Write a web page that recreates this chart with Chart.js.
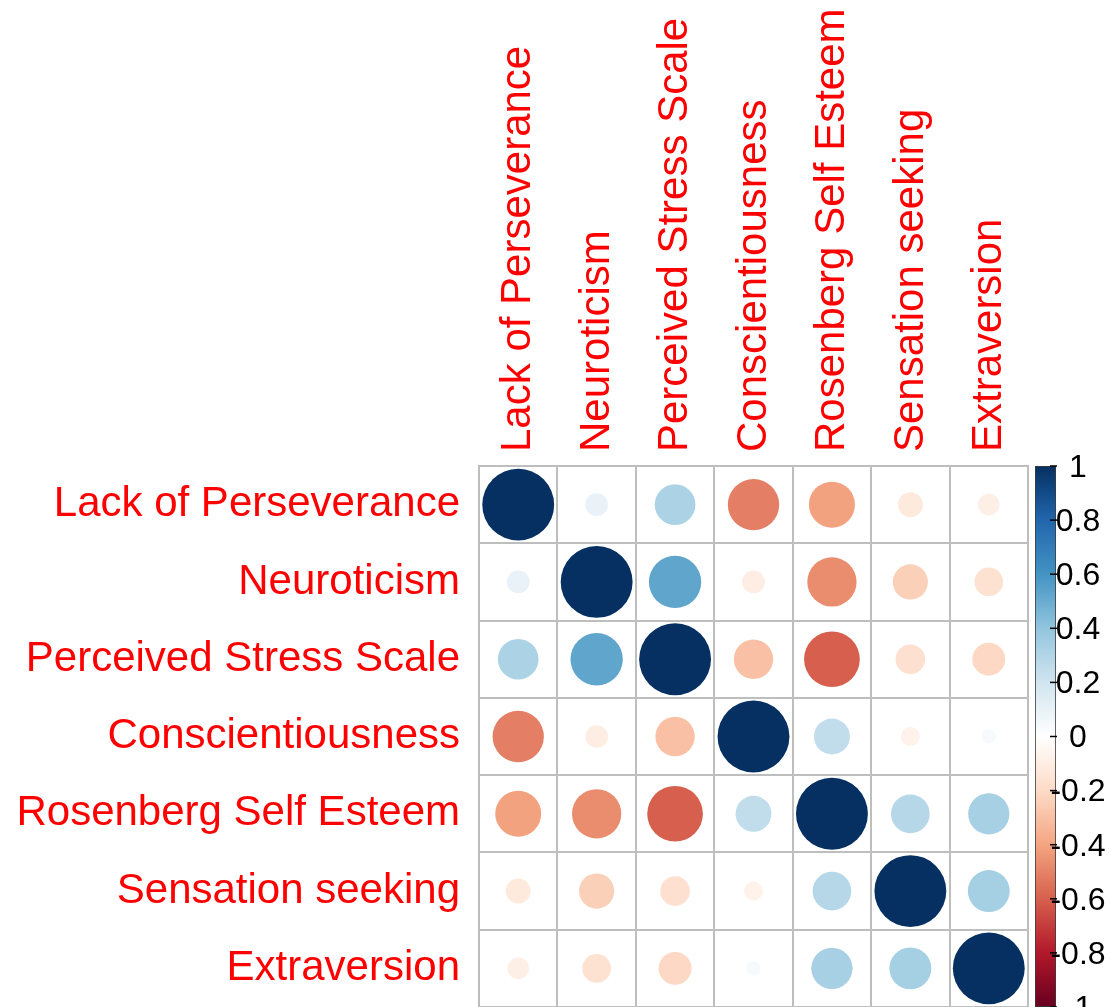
<!DOCTYPE html>
<html>
<head>
<meta charset="utf-8">
<script src="https://cdn.jsdelivr.net/npm/chart.js@4.4.1/dist/chart.umd.min.js"></script>
<style>
  html, body { margin: 0; padding: 0; background: #ffffff; overflow: hidden; }
  canvas { display: block; }
</style>
</head>
<body>
<canvas id="corr" width="1112" height="1007"></canvas>
<script>
// Variables, in the order of the matrix rows and columns
const variables = [
  "Lack of Perseverance",
  "Neuroticism",
  "Perceived Stress Scale",
  "Conscientiousness",
  "Rosenberg Self Esteem",
  "Sensation seeking",
  "Extraversion"
];

// Correlation rows (one per variable, columns in the same order)
const lackOfPerseverance = [ 1.00,  0.10,  0.32, -0.51, -0.41, -0.12, -0.09];
const neuroticism        = [ 0.10,  1.00,  0.53, -0.10, -0.47, -0.24, -0.16];
const perceivedStress    = [ 0.32,  0.53,  1.00, -0.30, -0.60, -0.17, -0.21];
const conscientiousness  = [-0.51, -0.10, -0.30,  1.00,  0.25, -0.07,  0.04];
const selfEsteem         = [-0.41, -0.47, -0.60,  0.25,  1.00,  0.29,  0.33];
const sensationSeeking   = [-0.12, -0.24, -0.17, -0.07,  0.29,  1.00,  0.34];
const extraversion       = [-0.09, -0.16, -0.21,  0.04,  0.33,  0.34,  1.00];

// Colour key ticks
const colorbarTicks  = [1, 0.8, 0.6, 0.4, 0.2, 0, -0.2, -0.4, -0.6, -0.8, -1];
const colorbarLabels = ["1", "0.8", "0.6", "0.4", "0.2", "0", "-0.2", "-0.4", "-0.6", "-0.8", "-1"];

// Diverging red-blue palette from -1 to 1
const rdbu = ["#67001F", "#B2182B", "#D6604D", "#F4A582", "#FDDBC7", "#FFFFFF",
              "#D1E5F0", "#92C5DE", "#4393C3", "#2166AC", "#053061"];

const rows = [lackOfPerseverance, neuroticism, perceivedStress, conscientiousness,
              selfEsteem, sensationSeeking, extraversion];

function hexToRgb(h) {
  return [parseInt(h.slice(1, 3), 16), parseInt(h.slice(3, 5), 16), parseInt(h.slice(5, 7), 16)];
}
function colorFor(v) {
  const t = Math.max(0, Math.min(1, (v + 1) / 2)) * (rdbu.length - 1);
  const i = Math.min(rdbu.length - 2, Math.floor(t));
  const f = t - i;
  const a = hexToRgb(rdbu[i]), b = hexToRgb(rdbu[i + 1]);
  const c = a.map((x, k) => Math.round(x + (b[k] - x) * f));
  return `rgb(${c[0]},${c[1]},${c[2]})`;
}

const points = [];
rows.forEach((row, i) => {
  row.forEach((v, j) => {
    points.push({ x: variables[j], y: variables[i], v: v });
  });
});

// Circle radius: area proportional to |r|, sized from the category cell
function radiusFor(ctx) {
  const chart = ctx.chart;
  const xs = chart.scales.x, ys = chart.scales.y;
  if (!xs || !ys || !ctx.raw) return 0;
  const cw = Math.abs(xs.getPixelForValue(1) - xs.getPixelForValue(0));
  const ch = Math.abs(ys.getPixelForValue(1) - ys.getPixelForValue(0));
  return Math.sqrt(Math.abs(ctx.raw.v)) * Math.min(cw, ch) * 0.465;
}

// Vertical colour key to the right of the matrix
const colorKey = {
  id: 'colorKey',
  afterDraw(chart) {
    const { ctx, chartArea: a } = chart;
    const x0 = a.right + 7, w = 21;
    const yOf = v => a.top + (1 - v) / 2 * (a.bottom - a.top);
    const g = ctx.createLinearGradient(0, yOf(-1), 0, yOf(1));
    rdbu.forEach((c, k) => g.addColorStop(k / (rdbu.length - 1), c));
    ctx.save();
    ctx.fillStyle = g;
    ctx.fillRect(x0, yOf(1), w, yOf(-1) - yOf(1));
    ctx.strokeStyle = 'rgba(60,60,60,0.8)';
    ctx.lineWidth = 1;
    ctx.strokeRect(x0 + 0.5, yOf(1) + 0.5, w - 1, yOf(-1) - yOf(1) - 1);
    ctx.strokeStyle = '#000000';
    ctx.lineWidth = 1.5;
    ctx.fillStyle = '#000000';
    ctx.font = '32px "Liberation Sans", Arial, sans-serif';
    ctx.textAlign = 'center';
    ctx.textBaseline = 'middle';
    colorbarTicks.forEach((v, k) => {
      const y = yOf(v);
      ctx.beginPath();
      ctx.moveTo(x0 + w - 6, y);
      ctx.lineTo(x0 + w + 1, y);
      ctx.stroke();
      ctx.fillText(colorbarLabels[k], a.right + 50, y + 2);
    });
    ctx.restore();
  }
};

const labelFont = { family: '"Liberation Sans", Arial, sans-serif', size: 42 };
const gridStyle = { color: '#BEBEBE', lineWidth: 2, offset: true, drawTicks: false };

new Chart(document.getElementById('corr'), {
  type: 'scatter',
  data: {
    datasets: [{
      data: points,
      pointStyle: 'circle',
      pointRadius: radiusFor,
      pointHoverRadius: radiusFor,
      pointBorderWidth: 0,
      pointBackgroundColor: ctx => ctx.raw ? colorFor(ctx.raw.v) : '#fff',
      pointBorderColor: 'rgba(0,0,0,0)'
    }]
  },
  options: {
    responsive: false,
    animation: false,
    devicePixelRatio: 1,
    events: [],
    layout: { padding: { left: 0, top: 0, right: 84, bottom: -1 } },
    plugins: { legend: { display: false }, tooltip: { enabled: false } },
    scales: {
      x: {
        type: 'category',
        labels: variables,
        position: 'top',
        offset: true,
        grid: gridStyle,
        border: { color: '#BEBEBE', width: 2 },
        ticks: {
          color: '#FF0000', font: labelFont, autoSkip: false,
          minRotation: 90, maxRotation: 90, padding: 14,
          // rotated labels on a top axis are anchored one line-height to the left; re-centre them
          labelOffset: 51
        },
        afterFit(scale) {
          scale.height = 466;
          scale.paddingLeft = 0;
          scale.paddingRight = 0;
        }
      },
      y: {
        type: 'category',
        labels: variables,
        position: 'left',
        offset: true,
        grid: gridStyle,
        border: { color: '#BEBEBE', width: 2 },
        ticks: { color: '#FF0000', font: labelFont, autoSkip: false, padding: 19 },
        afterFit(scale) {
          scale.width = 479;
          scale.paddingTop = 0;
          scale.paddingBottom = 0;
        }
      }
    }
  },
  plugins: [colorKey]
});
</script>
</body>
</html>
